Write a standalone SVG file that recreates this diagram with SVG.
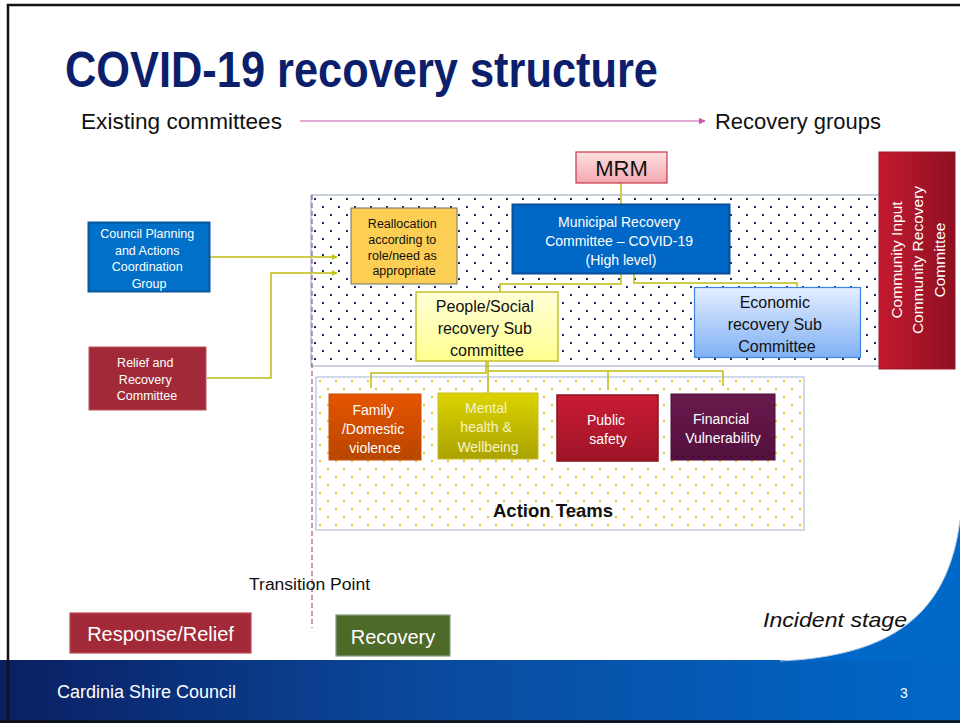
<svg xmlns="http://www.w3.org/2000/svg" width="960" height="723" viewBox="0 0 960 723">
<defs>
<style>
.t{font-family:"Liberation Sans",Arial,sans-serif;}
.w{fill:#ffffff;}
.k{fill:#111111;}
.conn{fill:none;stroke:#c0bc10;stroke-width:1.5;}
</style>
<pattern id="navyDots" x="311" y="195" width="16" height="16" patternUnits="userSpaceOnUse">
<rect x="3" y="3" width="2" height="2" fill="#1a2a6a"/>
<rect x="11" y="11" width="2" height="2" fill="#1a2a6a"/>
</pattern>
<pattern id="yDots" x="316" y="377" width="16" height="16" patternUnits="userSpaceOnUse">
<rect x="3" y="3" width="2" height="2" fill="#f0c020"/>
<rect x="11" y="11" width="2" height="2" fill="#f0c020"/>
</pattern>
<linearGradient id="footG" x1="0" y1="0" x2="1" y2="0">
<stop offset="0" stop-color="#0a1f62"/>
<stop offset="0.45" stop-color="#0a4a9e"/>
<stop offset="1" stop-color="#0068c8"/>
</linearGradient>
<linearGradient id="mrmG" x1="0" y1="0" x2="0" y2="1">
<stop offset="0" stop-color="#fde0e0"/>
<stop offset="1" stop-color="#f2a8b0"/>
</linearGradient>
<linearGradient id="pplG" x1="0" y1="0" x2="0" y2="1">
<stop offset="0" stop-color="#ffffd8"/>
<stop offset="1" stop-color="#ffff90"/>
</linearGradient>
<linearGradient id="ecoG" x1="0" y1="0" x2="0" y2="1">
<stop offset="0" stop-color="#e4eeff"/>
<stop offset="1" stop-color="#80b0f4"/>
</linearGradient>
<linearGradient id="crcG" x1="0" y1="0" x2="1" y2="0">
<stop offset="0" stop-color="#c41a30"/>
<stop offset="1" stop-color="#8c1020"/>
</linearGradient>
<linearGradient id="famG" x1="0" y1="0" x2="0" y2="1">
<stop offset="0" stop-color="#e65400"/>
<stop offset="1" stop-color="#b84600"/>
</linearGradient>
<linearGradient id="menG" x1="0" y1="0" x2="0" y2="1">
<stop offset="0" stop-color="#dcd400"/>
<stop offset="1" stop-color="#aaa200"/>
</linearGradient>
<linearGradient id="pubG" x1="0" y1="0" x2="0" y2="1">
<stop offset="0" stop-color="#c81c34"/>
<stop offset="1" stop-color="#a01428"/>
</linearGradient>
<linearGradient id="finG" x1="0" y1="0" x2="0" y2="1">
<stop offset="0" stop-color="#6a1a4e"/>
<stop offset="1" stop-color="#52103e"/>
</linearGradient>
<marker id="arrOl" viewBox="0 0 10 10" refX="9" refY="5" markerWidth="6" markerHeight="6" orient="auto" markerUnits="userSpaceOnUse">
<path d="M0,0 L10,5 L0,10 Z" fill="#c0bc10"/>
</marker>
<marker id="arrPk" viewBox="0 0 10 10" refX="9" refY="5" markerWidth="7" markerHeight="7" orient="auto" markerUnits="userSpaceOnUse">
<path d="M0,0 L10,5 L0,10 Z" fill="#c858a8"/>
</marker>
</defs>

<!-- background -->
<rect x="0" y="0" width="960" height="723" fill="#ffffff"/>

<!-- footer -->
<g id="footer">
<rect x="0" y="660" width="960" height="63" fill="url(#footG)"/>
<path d="M780,661 C890,656 948,616 960,520 L960,661 Z" fill="#0068c8"/>
<path d="M780,661 C890,656 948,616 960,520" fill="none" stroke="#b8cce8" stroke-width="1"/>
<text class="t w" x="57" y="698" font-size="18">Cardinia Shire Council</text>
<text class="t w" x="900" y="698" font-size="14">3</text>
</g>

<!-- frame -->
<path d="M8,722 V5 H960" fill="none" stroke="#111111" stroke-width="2.5"/>
<line x1="0" y1="721.5" x2="960" y2="721.5" stroke="#111111" stroke-width="2.5"/>

<!-- title -->
<text class="t" x="65" y="87" font-size="50" font-weight="bold" fill="#0c1f6c" textLength="593" lengthAdjust="spacingAndGlyphs">COVID-19 recovery structure</text>
<text class="t k" x="81" y="129" font-size="22" textLength="201" lengthAdjust="spacingAndGlyphs">Existing committees</text>
<text class="t k" x="715" y="129" font-size="22" textLength="166" lengthAdjust="spacingAndGlyphs">Recovery groups</text>

<!-- regions -->
<g id="recovery-region">
<rect x="311" y="195" width="569" height="171" fill="url(#navyDots)" stroke="#9aa4c4" stroke-width="1"/>
</g>
<g id="action-region">
<rect x="316" y="377" width="488" height="153" fill="url(#yDots)" stroke="#aab4d0" stroke-width="1"/>
<text class="t k" x="553" y="517" font-size="19" font-weight="bold" text-anchor="middle" textLength="120" lengthAdjust="spacingAndGlyphs">Action Teams</text>
</g>

<!-- transition -->
<g id="transition">
<line x1="312" y1="195" x2="312" y2="628" stroke="#8a3868" stroke-width="1" stroke-dasharray="5,3"/>
<text class="t k" x="249" y="590" font-size="16" textLength="121" lengthAdjust="spacingAndGlyphs">Transition Point</text>
</g>

<!-- connectors -->
<g id="connectors">
<line x1="300" y1="121" x2="705" y2="121" stroke="#d890c8" stroke-width="1.5" marker-end="url(#arrPk)"/>
<line class="conn" x1="621" y1="183" x2="621" y2="204"/>
<path class="conn" d="M621,274 V284 H500 V292"/>
<path class="conn" d="M634,274 V283 H797 V287"/>
<line class="conn" x1="210" y1="257" x2="337" y2="257" marker-end="url(#arrOl)"/>
<path class="conn" d="M207,378 H271 V273 H337" marker-end="url(#arrOl)"/>
<path class="conn" d="M486,361 V373 H371 V388"/>
<path class="conn" d="M488,361 V393"/>
<path class="conn" d="M488,371 H723 V386"/>
<path class="conn" d="M608,371 V390"/>
</g>

<!-- MRM -->
<g id="mrm">
<rect x="576" y="152" width="91" height="31" fill="url(#mrmG)" stroke="#c83848" stroke-width="1.2"/>
<text class="t k" x="621.5" y="176" font-size="22" text-anchor="middle">MRM</text>
</g>

<!-- Community -->
<g id="community">
<rect x="879" y="152" width="76" height="217" fill="url(#crcG)" stroke="#a01828" stroke-width="1"/>
<text class="t w" font-size="15.5" text-anchor="middle" transform="translate(902,260) rotate(-90)">Community Input</text>
<text class="t w" font-size="15.5" text-anchor="middle" transform="translate(923,260) rotate(-90)">Community Recovery</text>
<text class="t w" font-size="15.5" text-anchor="middle" transform="translate(945,260) rotate(-90)">Committee</text>
</g>

<!-- Reallocation -->
<g id="reallocation">
<rect x="351" y="208" width="106" height="76" fill="#fccf54" stroke="#6e6e6e" stroke-width="1"/>
<text class="t k" font-size="12.5" text-anchor="middle">
<tspan x="404" y="228">Reallocation</tspan>
<tspan x="404" y="244">according to</tspan>
<tspan x="404" y="260">role/need as</tspan>
<tspan x="404" y="275">appropriate</tspan>
</text>
</g>

<!-- Municipal -->
<g id="municipal">
<rect x="512.5" y="204.5" width="217" height="69" fill="#0068c6" stroke="#0a4c98" stroke-width="2"/>
<text class="t w" font-size="14" text-anchor="middle">
<tspan x="621" y="227">Municipal Recovery</tspan>
<tspan x="621" y="246">Committee – COVID-19</tspan>
<tspan x="621" y="265">(High level)</tspan>
</text>
</g>

<!-- People/Social -->
<g id="people">
<rect x="416" y="292" width="142" height="69" fill="url(#pplG)" stroke="#c4c030" stroke-width="1.5"/>
<text class="t k" font-size="16" text-anchor="middle">
<tspan x="487" y="312">People/Social</tspan>
<tspan x="487" y="334">recovery Sub</tspan>
<tspan x="487" y="356">committee</tspan>
</text>
</g>

<!-- Economic -->
<g id="economic">
<rect x="694.5" y="287.5" width="166" height="70" fill="url(#ecoG)" stroke="#3a86e0" stroke-width="1.2"/>
<text class="t k" font-size="16" text-anchor="middle">
<tspan x="777" y="308">Economic</tspan>
<tspan x="777" y="330">recovery Sub</tspan>
<tspan x="777" y="352">Committee</tspan>
</text>
</g>

<!-- Council Planning -->
<g id="council">
<rect x="88.5" y="222.5" width="121" height="69" fill="#0070c8" stroke="#0a56a0" stroke-width="2"/>
<text class="t w" font-size="12.5" text-anchor="middle">
<tspan x="149" y="238">Council Planning</tspan>
<tspan x="149" y="255">and Actions</tspan>
<tspan x="149" y="271">Coordination</tspan>
<tspan x="149" y="288">Group</tspan>
</text>
</g>

<!-- Relief -->
<g id="relief">
<rect x="89" y="347" width="117" height="63" fill="#a22a38" stroke="#c05060" stroke-width="1"/>
<text class="t w" font-size="12.5" text-anchor="middle">
<tspan x="147" y="367">Relief and</tspan>
<tspan x="147" y="384">Recovery</tspan>
<tspan x="147" y="400">Committee</tspan>
</text>
</g>

<!-- Action teams -->
<g id="family">
<rect x="329" y="394" width="92" height="66" fill="url(#famG)" stroke="#c85000" stroke-width="1"/>
<text class="t w" font-size="14" text-anchor="middle">
<tspan x="375" y="415">Family</tspan>
<tspan x="375" y="434">/Domestic</tspan>
<tspan x="375" y="453">violence</tspan>
</text>
</g>
<g id="mental">
<rect x="438" y="393" width="100" height="66" fill="url(#menG)" stroke="#c8c020" stroke-width="1"/>
<text class="t" fill="#f4f4c8" font-size="14" text-anchor="middle">
<tspan x="488" y="413">Mental</tspan>
<tspan x="488" y="432">health &amp;</tspan>
<tspan x="488" y="452">Wellbeing</tspan>
</text>
</g>
<g id="public">
<rect x="557" y="395" width="101" height="66" fill="url(#pubG)" stroke="#8a1020" stroke-width="1.5"/>
<text class="t w" font-size="14" text-anchor="middle">
<tspan x="608" y="425">Public</tspan>
<tspan x="608" y="444">safety</tspan>
</text>
</g>
<g id="financial">
<rect x="671" y="394" width="104" height="66" fill="url(#finG)" stroke="#4a0e38" stroke-width="1"/>
<text class="t w" font-size="14" text-anchor="middle">
<tspan x="723" y="424">Financial</tspan>
<tspan x="723" y="443">Vulnerability</tspan>
</text>
</g>

<!-- bottom stage boxes -->
<g id="response">
<rect x="70" y="613" width="181" height="40" fill="#a22a38" stroke="#c04858" stroke-width="1.2"/>
<text class="t w" x="160.5" y="641" font-size="20" text-anchor="middle">Response/Relief</text>
</g>
<g id="recovery">
<rect x="336" y="615" width="114" height="41" fill="#4e6a28" stroke="#8a9a80" stroke-width="1.2"/>
<text class="t w" x="393" y="644" font-size="20" text-anchor="middle">Recovery</text>
</g>
<text class="t k" x="907" y="627" font-size="21" font-style="italic" text-anchor="end" textLength="144" lengthAdjust="spacingAndGlyphs">Incident stage</text>
</svg>
